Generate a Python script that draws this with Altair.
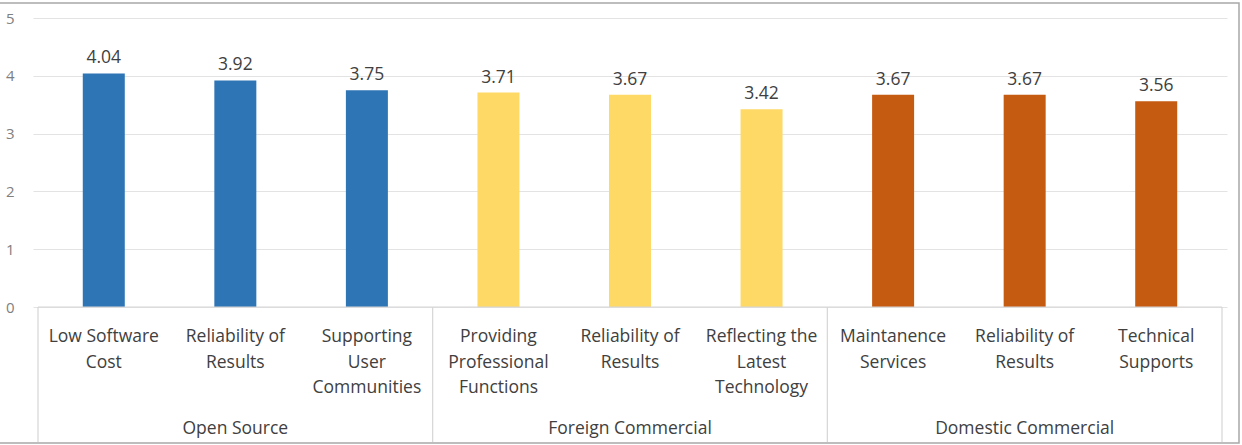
import altair as alt
import pandas as pd

# Survey scores for software selection criteria, grouped by software type
criteria = [
    "Low Software\nCost", "Reliability of\nResults", "Supporting\nUser\nCommunities",
    "Providing\nProfessional\nFunctions", "Reliability of\nResults", "Reflecting the\nLatest\nTechnology",
    "Maintanence\nServices", "Reliability of\nResults", "Technical\nSupports",
]
groups = [
    "Open Source", "Open Source", "Open Source",
    "Foreign Commercial", "Foreign Commercial", "Foreign Commercial",
    "Domestic Commercial", "Domestic Commercial", "Domestic Commercial",
]
scores = [4.04, 3.92, 3.75, 3.71, 3.67, 3.42, 3.67, 3.67, 3.56]
group_names = ["Open Source", "Foreign Commercial", "Domestic Commercial"]
group_colors = ["#2E75B6", "#FFD966", "#C55A11"]

FONT = "Open Sans"
W, H = 1194, 289

df = pd.DataFrame({
    "criterion": criteria,
    "group": groups,
    "score": scores,
    "pos": [i + 0.5 for i in range(len(criteria))],
})

# group spans on the category axis
spans = pd.DataFrame({
    "group": group_names,
    "start": [groups.index(g) for g in group_names],
})
spans["end"] = [s + groups.count(g) for s, g in zip(spans["start"], spans["group"])]
spans["mid"] = (spans["start"] + spans["end"]) / 2
edges = pd.DataFrame({"edge": sorted(set(spans["start"]) | set(spans["end"]))})

xscale = alt.Scale(domain=[0, len(criteria)], nice=False, zero=False)
x_pos = alt.X("pos:Q", scale=xscale, axis=None)

base = alt.Chart(df)

bars = base.mark_bar(size=42).encode(
    x=x_pos,
    y=alt.Y(
        "score:Q",
        scale=alt.Scale(domain=[0, 5], nice=False),
        axis=alt.Axis(
            values=[0, 1, 2, 3, 4, 5], format="d", title=None, domain=False, ticks=False,
            grid=True, gridColor="#e3e3e3", gridWidth=1.2,
            labelColor="#808080", labelFont=FONT, labelFontSize=15,
            labelAlign="right", labelPadding=19,
        ),
    ),
    color=alt.Color("group:N", scale=alt.Scale(domain=group_names, range=group_colors), legend=None),
)

values = base.mark_text(font=FONT, fontSize=17.5, color="#404040", baseline="middle", dy=-15).encode(
    x=x_pos, y="score:Q", text=alt.Text("score:Q", format=".2f"),
)

cat_labels = base.mark_text(
    font=FONT, fontSize=17.5, color="#404040", baseline="top", lineBreak="\n", lineHeight=25.5,
).encode(x=x_pos, y=alt.value(310), text="criterion:N")

table_top = alt.Chart(spans).mark_rule(color="#d6d6d6", strokeWidth=1.2).encode(
    x=alt.X("start:Q", scale=xscale, axis=None), x2="end:Q", y=alt.value(H),
)

table_lines = alt.Chart(edges).mark_rule(color="#d6d6d6", strokeWidth=1.2).encode(
    x=alt.X("edge:Q", scale=xscale, axis=None), y=alt.value(H), y2=alt.value(424),
)

group_labels = alt.Chart(spans).mark_text(
    font=FONT, fontSize=17.5, color="#404040", baseline="middle",
).encode(x=alt.X("mid:Q", scale=xscale, axis=None), y=alt.value(411), text="group:N")

frame = alt.Chart(pd.DataFrame({"f": [0]})).mark_rect(
    fill="transparent", stroke="#a8a8a8", strokeWidth=1.5,
).encode(x=alt.value(-40), x2=alt.value(1206), y=alt.value(-15), y2=alt.value(425))

chart = alt.layer(
    bars, values, table_top, table_lines, cat_labels, group_labels, frame
).properties(
    width=W, height=H,
    padding={"left": 33, "top": 18, "right": 15, "bottom": 138},
    autosize=alt.AutoSizeParams(type="none"),
    background="white",
).configure_view(stroke=None)

chart.save("out.html", embed_options={"renderer": "svg", "actions": False})
